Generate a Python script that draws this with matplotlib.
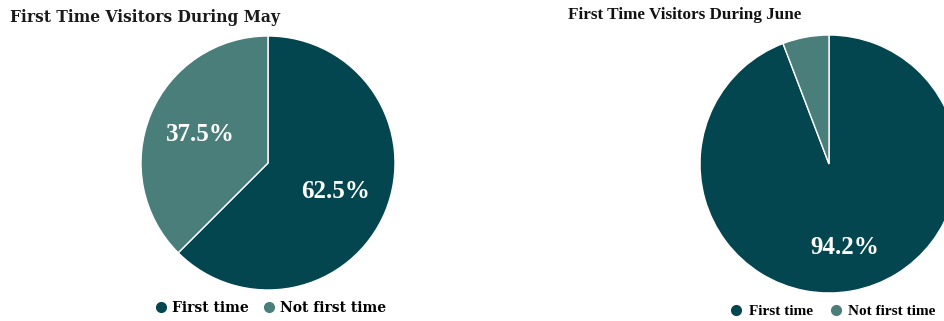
import matplotlib.pyplot as plt
from matplotlib.lines import Line2D

labels = ['First time', 'Not first time']
may_values = [62.5, 37.5]
june_values = [94.2, 5.8]
colors = ['#03464f', '#4a7e7a']

W, H = 944, 321
fig = plt.figure(figsize=(W / 100, H / 100), dpi=100)


def pct(v):
    return '%.1f%%' % v if v > 10 else ''


def add_pie(cx, cy, r, values, pctd):
    ax = fig.add_axes([(cx - r) / W, (H - cy - r) / H, 2 * r / W, 2 * r / H])
    ax.pie(values, colors=colors, startangle=90, counterclock=False,
           autopct=pct, pctdistance=pctd,
           wedgeprops=dict(edgecolor='white', linewidth=1),
           textprops=dict(color='white', fontsize=18, fontweight='bold',
                          family='Liberation Serif'))
    ax.set_xlim(-1, 1)
    ax.set_ylim(-1, 1)
    ax.axis('off')
    return ax


add_pie(268, 163, 127, may_values, 0.58)
add_pie(829, 164, 129, june_values, 0.66)

fig.text(10 / W, 1 - 17 / H, 'First Time Visitors During May', fontsize=11.2, fontweight='bold',
         family='DejaVu Serif', color='#1a1a1a', va='center', ha='left')
fig.text(568 / W, 1 - 15 / H, 'First Time Visitors During June', fontsize=12.3, fontweight='bold',
         family='Liberation Serif', color='#111111', va='center', ha='left')

handles = [Line2D([], [], marker='o', linestyle='', markersize=7, color=c) for c in colors]
fig.legend(handles, labels, loc='center', bbox_to_anchor=(270 / W, 1 - 308 / H), ncol=2,
           frameon=False, handletextpad=0.3, columnspacing=1.0, handlelength=1,
           prop=dict(family='DejaVu Serif', weight='bold', size=10))
fig.legend(handles, labels, loc='center', bbox_to_anchor=(832 / W, 1 - 311 / H), ncol=2,
           frameon=False, handletextpad=0.3, columnspacing=1.0, handlelength=1,
           prop=dict(family='Liberation Serif', weight='bold', size=11))

fig.savefig('out.png', dpi=100)
